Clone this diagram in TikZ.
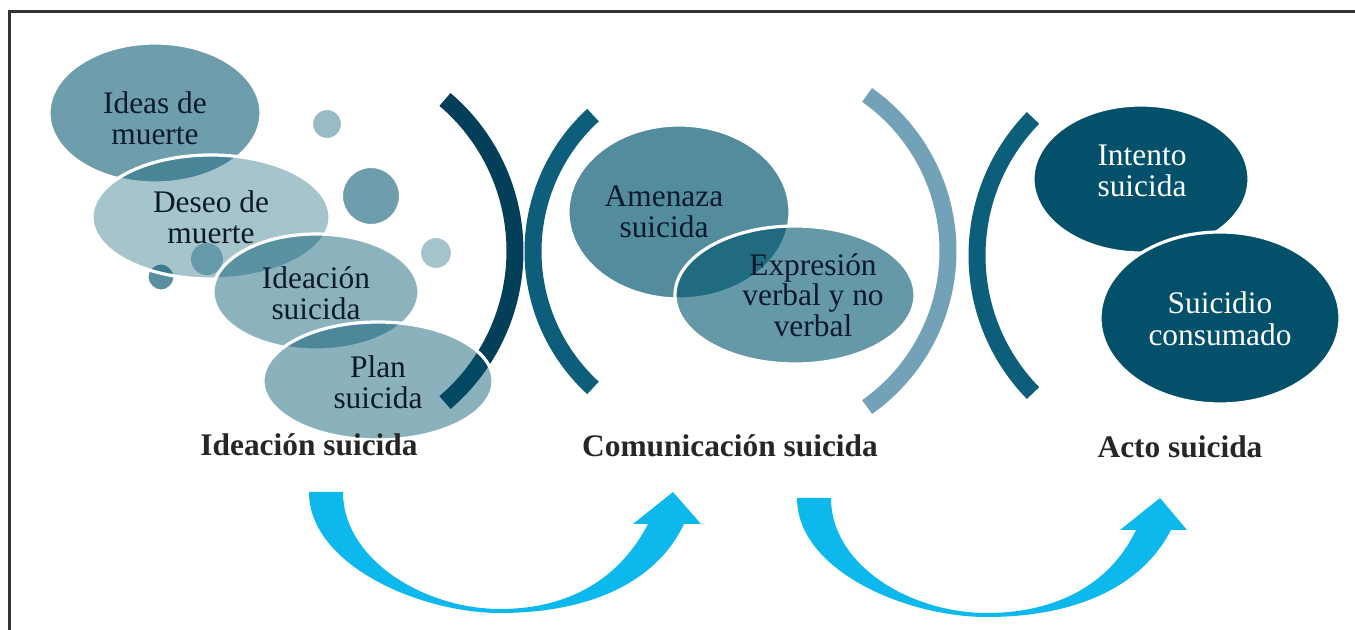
\documentclass[tikz,border=0pt]{standalone}
\usepackage{fontspec}
\setmainfont{Liberation Serif}
\usetikzlibrary{shapes.geometric}
\definecolor{base}{HTML}{00556D}
\definecolor{deep}{HTML}{03506B}
\definecolor{navy}{HTML}{033F59}
\definecolor{teal}{HTML}{0C5E7B}
\definecolor{pale}{HTML}{72A1B8}
\definecolor{sky}{HTML}{0DB8EC}
\definecolor{txt}{HTML}{0A1A2C}
\definecolor{framec}{HTML}{333333}
\begin{document}
\begin{tikzpicture}[x=0.5pt,y=0.5pt,
  ell/.style={ellipse, draw=white, line width=1.6pt, inner sep=0pt, fill=base},
  dot/.style={circle, draw=white, line width=1pt, inner sep=0pt, fill=base},
  bracket/.style={line width=8.5pt},
  intext/.style={align=center, text=txt, font=\fontsize{15.7}{15.3}\selectfont},
  outtext/.style={align=center, text=white, font=\fontsize{15.7}{15.8}\selectfont},
  stage/.style={anchor=base, text=black!85, font=\fontsize{15.7}{18}\selectfont\bfseries},
  flow/.style={fill=sky, draw=none}]
\useasboundingbox (0,0) rectangle (1355,-630);
% frame
\draw[framec, line width=1.5pt] (1355,-12) -- (9.5,-12) -- (9.5,-630);
% brackets
\draw[bracket, navy] (316,-251) ++(49.6:199) arc[start angle=49.6, end angle=-49.6, radius=199];
\draw[bracket, teal] (718,-251.5) ++(132.5:185) arc[start angle=132.5, end angle=227.5, radius=185];
\draw[bracket, pale] (757,-251) ++(54.8:191) arc[start angle=54.8, end angle=-54.8, radius=191];
\draw[bracket, teal] (1174,-255.5) ++(135.7:197) arc[start angle=135.7, end angle=224.3, radius=197];
% left group
\node[ell, fill opacity=0.57, minimum width=106pt, minimum height=70pt] (e1) at (155,-113) {};
\node[dot, fill opacity=0.40, minimum size=15pt] (c1) at (327,-124) {};
\node[dot, fill opacity=0.57, minimum size=29pt] (c2) at (371,-196) {};
\node[dot, fill opacity=0.35, minimum size=16pt] (c3) at (436,-253) {};
\node[dot, fill opacity=0.65, minimum size=14pt, line width=1.6pt] (c4) at (161,-277) {};
\node[ell, fill opacity=0.35, minimum width=119pt, minimum height=62pt] (e2) at (211,-217) {};
\node[circle, inner sep=0pt, fill=base, fill opacity=0.38, minimum size=16pt] (c5) at (207,-259) {};
\node[ell, fill opacity=0.45, minimum width=103pt, minimum height=58pt] (e3) at (316,-292) {};
\node[ell, fill opacity=0.46, minimum width=115pt, minimum height=59pt] (e4) at (378,-381) {};
% middle group
\node[ell, fill opacity=0.675, minimum width=111pt, minimum height=87pt] (e5) at (679,-212) {};
\node[ell, fill opacity=0.6, minimum width=120pt, minimum height=69pt] (e6) at (795,-295) {};
% right group
\node[ell, fill=deep, minimum width=108pt, minimum height=74pt] (e7) at (1141,-179) {};
\node[ell, fill=deep, minimum width=120pt, minimum height=86pt] (e8) at (1220,-318) {};
% texts
\node[intext] (t1) at (155,-118) {Ideas de\\muerte};
\node[intext] (t2) at (211,-217) {Deseo de\\muerte};
\node[intext] (t3) at (316,-293) {Ideación\\suicida};
\node[intext] (t4) at (378,-382) {Plan\\suicida};
\node[intext] (t5) at (664,-212) {Amenaza\\suicida};
\node[intext] (t6) at (813,-295) {Expresión\\verbal y no\\verbal};
\node[outtext] (t7) at (1142,-171) {Intento\\suicida};
\node[outtext] (t8) at (1220,-319) {Suicidio\\consumado};
% stage labels
\node[stage] (s1) at (309,-456) {Ideación suicida};
\node[stage] (s2) at (730,-457) {Comunicación suicida};
\node[stage] (s3) at (1180,-458) {Acto suicida};
% flow arrows
\fill[flow] (309,-492) .. controls (309,-565) and (420,-613) .. (500,-613)
  .. controls (585,-613) and (655,-585) .. (684,-524)
  -- (701,-524) -- (673,-492) -- (633,-524) -- (648,-524)
  .. controls (620,-578) and (570,-609) .. (500,-609)
  .. controls (425,-609) and (343,-560) .. (343,-492) -- cycle;
\fill[flow] (797,-498) .. controls (797,-570) and (905,-617) .. (987,-617)
  .. controls (1070,-617) and (1140,-590) .. (1171,-530)
  -- (1187,-530) -- (1160,-498) -- (1120,-530) -- (1136,-530)
  .. controls (1110,-585) and (1055,-613) .. (987,-613)
  .. controls (910,-613) and (831,-565) .. (831,-498) -- cycle;
\end{tikzpicture}
\end{document}
